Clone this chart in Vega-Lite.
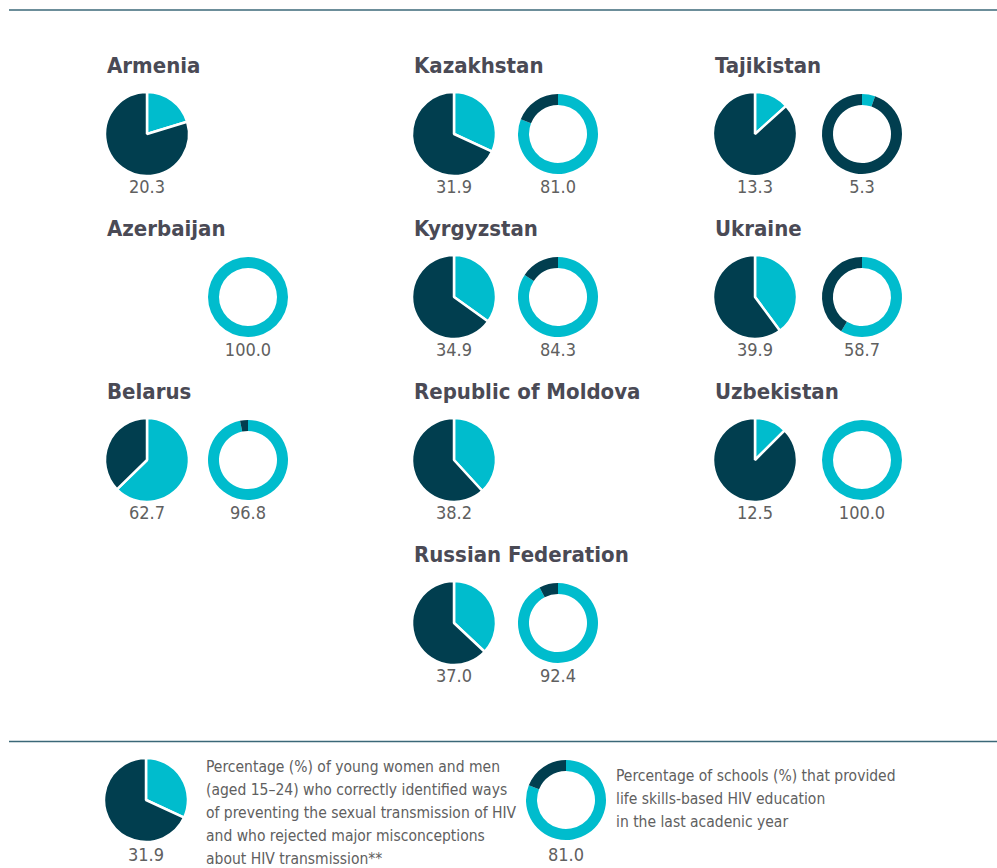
{
  "$schema": "https://vega.github.io/schema/vega-lite/v6.json",
  "padding": {"left": 8, "top": 9, "right": 0, "bottom": 0},
  "config": {
    "view": {"stroke": null},
    "concat": {"spacing": 0},
    "facet": {"spacing": 0},
    "font": "DejaVu Sans Condensed, Liberation Sans, sans-serif"
  },
  "datasets": {
    "cells": [
      {"country": "Armenia", "col": 1, "row": 1, "kind": "title"},
      {"country": "Armenia", "col": 1, "row": 1, "kind": "pie", "seg": "cyan", "ord": 1, "value": 20.3},
      {"country": "Armenia", "col": 1, "row": 1, "kind": "pie", "seg": "dark", "ord": 2, "value": 79.7},
      {"country": "Azerbaijan", "col": 1, "row": 2, "kind": "title"},
      {"country": "Azerbaijan", "col": 1, "row": 2, "kind": "donut", "seg": "cyan", "ord": 1, "value": 100.0},
      {"country": "Azerbaijan", "col": 1, "row": 2, "kind": "donut", "seg": "dark", "ord": 2, "value": 0},
      {"country": "Belarus", "col": 1, "row": 3, "kind": "title"},
      {"country": "Belarus", "col": 1, "row": 3, "kind": "pie", "seg": "cyan", "ord": 1, "value": 62.7},
      {"country": "Belarus", "col": 1, "row": 3, "kind": "pie", "seg": "dark", "ord": 2, "value": 37.3},
      {"country": "Belarus", "col": 1, "row": 3, "kind": "donut", "seg": "cyan", "ord": 1, "value": 96.8},
      {"country": "Belarus", "col": 1, "row": 3, "kind": "donut", "seg": "dark", "ord": 2, "value": 3.2},
      {"country": "Kazakhstan", "col": 2, "row": 1, "kind": "title"},
      {"country": "Kazakhstan", "col": 2, "row": 1, "kind": "pie", "seg": "cyan", "ord": 1, "value": 31.9},
      {"country": "Kazakhstan", "col": 2, "row": 1, "kind": "pie", "seg": "dark", "ord": 2, "value": 68.1},
      {"country": "Kazakhstan", "col": 2, "row": 1, "kind": "donut", "seg": "cyan", "ord": 1, "value": 81.0},
      {"country": "Kazakhstan", "col": 2, "row": 1, "kind": "donut", "seg": "dark", "ord": 2, "value": 19.0},
      {"country": "Kyrgyzstan", "col": 2, "row": 2, "kind": "title"},
      {"country": "Kyrgyzstan", "col": 2, "row": 2, "kind": "pie", "seg": "cyan", "ord": 1, "value": 34.9},
      {"country": "Kyrgyzstan", "col": 2, "row": 2, "kind": "pie", "seg": "dark", "ord": 2, "value": 65.1},
      {"country": "Kyrgyzstan", "col": 2, "row": 2, "kind": "donut", "seg": "cyan", "ord": 1, "value": 84.3},
      {"country": "Kyrgyzstan", "col": 2, "row": 2, "kind": "donut", "seg": "dark", "ord": 2, "value": 15.7},
      {"country": "Republic of Moldova", "col": 2, "row": 3, "kind": "title"},
      {"country": "Republic of Moldova", "col": 2, "row": 3, "kind": "pie", "seg": "cyan", "ord": 1, "value": 38.2},
      {"country": "Republic of Moldova", "col": 2, "row": 3, "kind": "pie", "seg": "dark", "ord": 2, "value": 61.8},
      {"country": "Russian Federation", "col": 2, "row": 4, "kind": "title"},
      {"country": "Russian Federation", "col": 2, "row": 4, "kind": "pie", "seg": "cyan", "ord": 1, "value": 37.0},
      {"country": "Russian Federation", "col": 2, "row": 4, "kind": "pie", "seg": "dark", "ord": 2, "value": 63.0},
      {"country": "Russian Federation", "col": 2, "row": 4, "kind": "donut", "seg": "cyan", "ord": 1, "value": 92.4},
      {"country": "Russian Federation", "col": 2, "row": 4, "kind": "donut", "seg": "dark", "ord": 2, "value": 7.6},
      {"country": "Tajikistan", "col": 3, "row": 1, "kind": "title"},
      {"country": "Tajikistan", "col": 3, "row": 1, "kind": "pie", "seg": "cyan", "ord": 1, "value": 13.3},
      {"country": "Tajikistan", "col": 3, "row": 1, "kind": "pie", "seg": "dark", "ord": 2, "value": 86.7},
      {"country": "Tajikistan", "col": 3, "row": 1, "kind": "donut", "seg": "cyan", "ord": 1, "value": 5.3},
      {"country": "Tajikistan", "col": 3, "row": 1, "kind": "donut", "seg": "dark", "ord": 2, "value": 94.7},
      {"country": "Ukraine", "col": 3, "row": 2, "kind": "title"},
      {"country": "Ukraine", "col": 3, "row": 2, "kind": "pie", "seg": "cyan", "ord": 1, "value": 39.9},
      {"country": "Ukraine", "col": 3, "row": 2, "kind": "pie", "seg": "dark", "ord": 2, "value": 60.1},
      {"country": "Ukraine", "col": 3, "row": 2, "kind": "donut", "seg": "cyan", "ord": 1, "value": 58.7},
      {"country": "Ukraine", "col": 3, "row": 2, "kind": "donut", "seg": "dark", "ord": 2, "value": 41.3},
      {"country": "Uzbekistan", "col": 3, "row": 3, "kind": "title"},
      {"country": "Uzbekistan", "col": 3, "row": 3, "kind": "pie", "seg": "cyan", "ord": 1, "value": 12.5},
      {"country": "Uzbekistan", "col": 3, "row": 3, "kind": "pie", "seg": "dark", "ord": 2, "value": 87.5},
      {"country": "Uzbekistan", "col": 3, "row": 3, "kind": "donut", "seg": "cyan", "ord": 1, "value": 100.0},
      {"country": "Uzbekistan", "col": 3, "row": 3, "kind": "donut", "seg": "dark", "ord": 2, "value": 0}
    ]
  },
  "vconcat": [
    {
      "width": 989, "height": 31,
      "data": {"values": [{}]},
      "mark": {"type": "rule", "color": "#3b6878", "strokeWidth": 1.5},
      "encoding": {
        "x": {"datum": 0, "type": "quantitative", "scale": {"domain": [0, 1]}, "axis": null},
        "x2": {"datum": 1},
        "y": {"datum": 1, "type": "quantitative", "scale": {"domain": [0, 1]}, "axis": null}
      }
    },
    {
      "hconcat": [
        {
          "data": {"name": "cells"},
          "transform": [{"filter": "datum.col == 1"}],
          "facet": {"row": {"field": "row", "type": "ordinal", "header": null}},
          "spacing": 0,
          "spec": {
            "width": 305, "height": 163,
            "layer": [
              {"transform": [{"filter": "datum.kind == 'title'"}],
               "mark": {"type": "text", "align": "left", "baseline": "alphabetic", "dx": -40, "dy": -2, "fontSize": 22, "fontWeight": "bold", "color": "#4a4a55"},
               "encoding": {
                 "x": {"datum": "pie", "type": "nominal", "scale": {"type": "point", "domain": ["pie", "donut"], "range": [138, 239], "padding": 0}, "axis": null},
                 "y": {"datum": "title", "type": "nominal", "scale": {"type": "point", "domain": ["title", "chart", "label"], "range": [34, 152], "padding": 0}, "axis": null},
                 "text": {"field": "country"}}},
              {"transform": [{"filter": "datum.kind == 'pie'"}],
               "mark": {"type": "arc", "outerRadius": 42, "stroke": "white", "strokeWidth": 2.5, "strokeJoin": "bevel"},
               "encoding": {
                 "x": {"datum": "pie", "type": "nominal", "scale": {"type": "point", "domain": ["pie", "donut"], "range": [138, 239], "padding": 0}, "axis": null},
                 "y": {"datum": "chart", "type": "nominal", "scale": {"type": "point", "domain": ["title", "chart", "label"], "range": [34, 152], "padding": 0}, "axis": null},
                 "theta": {"field": "value", "type": "quantitative", "stack": true, "scale": {"domain": [0, 100]}},
                 "color": {"field": "seg", "type": "nominal", "scale": {"domain": ["cyan", "dark"], "range": ["#00bccd", "#013e4f"]}, "legend": null},
                 "order": {"field": "ord", "type": "quantitative"}}},
              {"transform": [{"filter": "datum.kind == 'donut'"}],
               "mark": {"type": "arc", "outerRadius": 40, "innerRadius": 29},
               "encoding": {
                 "x": {"datum": "donut", "type": "nominal", "scale": {"type": "point", "domain": ["pie", "donut"], "range": [138, 239], "padding": 0}, "axis": null},
                 "y": {"datum": "chart", "type": "nominal", "scale": {"type": "point", "domain": ["title", "chart", "label"], "range": [34, 152], "padding": 0}, "axis": null},
                 "theta": {"field": "value", "type": "quantitative", "stack": true, "scale": {"domain": [0, 100]}},
                 "color": {"field": "seg", "type": "nominal", "scale": {"domain": ["cyan", "dark"], "range": ["#00bccd", "#013e4f"]}, "legend": null},
                 "order": {"field": "ord", "type": "quantitative"}}},
              {"transform": [{"filter": "datum.kind != 'title' && datum.seg == 'cyan'"}],
               "mark": {"type": "text", "align": "center", "baseline": "middle", "dy": -5, "fontSize": 18, "color": "#606060"},
               "encoding": {
                 "x": {"field": "kind", "type": "nominal", "scale": {"type": "point", "domain": ["pie", "donut"], "range": [138, 239], "padding": 0}, "axis": null},
                 "y": {"datum": "label", "type": "nominal", "scale": {"type": "point", "domain": ["title", "chart", "label"], "range": [34, 152], "padding": 0}, "axis": null},
                 "text": {"field": "value", "type": "quantitative", "format": ".1f"}}}
            ]
          }
        },
        {
          "data": {"name": "cells"},
          "transform": [{"filter": "datum.col == 2"}],
          "facet": {"row": {"field": "row", "type": "ordinal", "header": null}},
          "spacing": 0,
          "spec": {
            "width": 352, "height": 163,
            "layer": [
              {"transform": [{"filter": "datum.kind == 'title'"}],
               "mark": {"type": "text", "align": "left", "baseline": "alphabetic", "dx": -40, "dy": -2, "fontSize": 22, "fontWeight": "bold", "color": "#4a4a55"},
               "encoding": {
                 "x": {"datum": "pie", "type": "nominal", "scale": {"type": "point", "domain": ["pie", "donut"], "range": [140, 244], "padding": 0}, "axis": null},
                 "y": {"datum": "title", "type": "nominal", "scale": {"type": "point", "domain": ["title", "chart", "label"], "range": [34, 152], "padding": 0}, "axis": null},
                 "text": {"field": "country"}}},
              {"transform": [{"filter": "datum.kind == 'pie'"}],
               "mark": {"type": "arc", "outerRadius": 42, "stroke": "white", "strokeWidth": 2.5, "strokeJoin": "bevel"},
               "encoding": {
                 "x": {"datum": "pie", "type": "nominal", "scale": {"type": "point", "domain": ["pie", "donut"], "range": [140, 244], "padding": 0}, "axis": null},
                 "y": {"datum": "chart", "type": "nominal", "scale": {"type": "point", "domain": ["title", "chart", "label"], "range": [34, 152], "padding": 0}, "axis": null},
                 "theta": {"field": "value", "type": "quantitative", "stack": true, "scale": {"domain": [0, 100]}},
                 "color": {"field": "seg", "type": "nominal", "scale": {"domain": ["cyan", "dark"], "range": ["#00bccd", "#013e4f"]}, "legend": null},
                 "order": {"field": "ord", "type": "quantitative"}}},
              {"transform": [{"filter": "datum.kind == 'donut'"}],
               "mark": {"type": "arc", "outerRadius": 40, "innerRadius": 29},
               "encoding": {
                 "x": {"datum": "donut", "type": "nominal", "scale": {"type": "point", "domain": ["pie", "donut"], "range": [140, 244], "padding": 0}, "axis": null},
                 "y": {"datum": "chart", "type": "nominal", "scale": {"type": "point", "domain": ["title", "chart", "label"], "range": [34, 152], "padding": 0}, "axis": null},
                 "theta": {"field": "value", "type": "quantitative", "stack": true, "scale": {"domain": [0, 100]}},
                 "color": {"field": "seg", "type": "nominal", "scale": {"domain": ["cyan", "dark"], "range": ["#00bccd", "#013e4f"]}, "legend": null},
                 "order": {"field": "ord", "type": "quantitative"}}},
              {"transform": [{"filter": "datum.kind != 'title' && datum.seg == 'cyan'"}],
               "mark": {"type": "text", "align": "center", "baseline": "middle", "dy": -5, "fontSize": 18, "color": "#606060"},
               "encoding": {
                 "x": {"field": "kind", "type": "nominal", "scale": {"type": "point", "domain": ["pie", "donut"], "range": [140, 244], "padding": 0}, "axis": null},
                 "y": {"datum": "label", "type": "nominal", "scale": {"type": "point", "domain": ["title", "chart", "label"], "range": [34, 152], "padding": 0}, "axis": null},
                 "text": {"field": "value", "type": "quantitative", "format": ".1f"}}}
            ]
          }
        },
        {
          "data": {"name": "cells"},
          "transform": [{"filter": "datum.col == 3"}],
          "facet": {"row": {"field": "row", "type": "ordinal", "header": null}},
          "spacing": 0,
          "spec": {
            "width": 332, "height": 163,
            "layer": [
              {"transform": [{"filter": "datum.kind == 'title'"}],
               "mark": {"type": "text", "align": "left", "baseline": "alphabetic", "dx": -40, "dy": -2, "fontSize": 22, "fontWeight": "bold", "color": "#4a4a55"},
               "encoding": {
                 "x": {"datum": "pie", "type": "nominal", "scale": {"type": "point", "domain": ["pie", "donut"], "range": [89, 196], "padding": 0}, "axis": null},
                 "y": {"datum": "title", "type": "nominal", "scale": {"type": "point", "domain": ["title", "chart", "label"], "range": [34, 152], "padding": 0}, "axis": null},
                 "text": {"field": "country"}}},
              {"transform": [{"filter": "datum.kind == 'pie'"}],
               "mark": {"type": "arc", "outerRadius": 42, "stroke": "white", "strokeWidth": 2.5, "strokeJoin": "bevel"},
               "encoding": {
                 "x": {"datum": "pie", "type": "nominal", "scale": {"type": "point", "domain": ["pie", "donut"], "range": [89, 196], "padding": 0}, "axis": null},
                 "y": {"datum": "chart", "type": "nominal", "scale": {"type": "point", "domain": ["title", "chart", "label"], "range": [34, 152], "padding": 0}, "axis": null},
                 "theta": {"field": "value", "type": "quantitative", "stack": true, "scale": {"domain": [0, 100]}},
                 "color": {"field": "seg", "type": "nominal", "scale": {"domain": ["cyan", "dark"], "range": ["#00bccd", "#013e4f"]}, "legend": null},
                 "order": {"field": "ord", "type": "quantitative"}}},
              {"transform": [{"filter": "datum.kind == 'donut'"}],
               "mark": {"type": "arc", "outerRadius": 40, "innerRadius": 29},
               "encoding": {
                 "x": {"datum": "donut", "type": "nominal", "scale": {"type": "point", "domain": ["pie", "donut"], "range": [89, 196], "padding": 0}, "axis": null},
                 "y": {"datum": "chart", "type": "nominal", "scale": {"type": "point", "domain": ["title", "chart", "label"], "range": [34, 152], "padding": 0}, "axis": null},
                 "theta": {"field": "value", "type": "quantitative", "stack": true, "scale": {"domain": [0, 100]}},
                 "color": {"field": "seg", "type": "nominal", "scale": {"domain": ["cyan", "dark"], "range": ["#00bccd", "#013e4f"]}, "legend": null},
                 "order": {"field": "ord", "type": "quantitative"}}},
              {"transform": [{"filter": "datum.kind != 'title' && datum.seg == 'cyan'"}],
               "mark": {"type": "text", "align": "center", "baseline": "middle", "dy": -5, "fontSize": 18, "color": "#606060"},
               "encoding": {
                 "x": {"field": "kind", "type": "nominal", "scale": {"type": "point", "domain": ["pie", "donut"], "range": [89, 196], "padding": 0}, "axis": null},
                 "y": {"datum": "label", "type": "nominal", "scale": {"type": "point", "domain": ["title", "chart", "label"], "range": [34, 152], "padding": 0}, "axis": null},
                 "text": {"field": "value", "type": "quantitative", "format": ".1f"}}}
            ]
          }
        }
      ]
    },
    {
      "width": 989, "height": 48.5,
      "data": {"values": [{}]},
      "mark": {"type": "rule", "color": "#3b6878", "strokeWidth": 1.5},
      "encoding": {
        "x": {"datum": 0, "type": "quantitative", "scale": {"domain": [0, 1]}, "axis": null},
        "x2": {"datum": 1},
        "y": {"datum": 0, "type": "quantitative", "scale": {"domain": [0, 1]}, "axis": null}
      }
    },
    {
      "width": 989, "height": 126,
      "data": {"values": [
        {"item": "pie", "seg": "cyan", "ord": 1, "value": 31.9},
        {"item": "pie", "seg": "dark", "ord": 2, "value": 68.1},
        {"item": "donut", "seg": "cyan", "ord": 1, "value": 81.0},
        {"item": "donut", "seg": "dark", "ord": 2, "value": 19.0},
        {"item": "pie", "seg": "text", "desc": "Percentage (%) of young women and men\n(aged 15–24) who correctly identified ways\nof preventing the sexual transmission of HIV\nand who rejected major misconceptions\nabout HIV transmission**"},
        {"item": "donut", "seg": "text", "desc": "Percentage of schools (%) that provided\nlife skills-based HIV education\nin the last acadenic year"}
      ]},
      "layer": [
        {"transform": [{"filter": "datum.item == 'pie' && datum.seg != 'text'"}],
         "mark": {"type": "arc", "outerRadius": 42, "stroke": "white", "strokeWidth": 2.5, "strokeJoin": "bevel"},
         "encoding": {
           "x": {"datum": "pie", "type": "nominal", "scale": {"type": "point", "domain": ["pie", "donut"], "range": [137, 557], "padding": 0}, "axis": null},
           "y": {"datum": "chart", "type": "nominal", "scale": {"type": "point", "domain": ["chart", "label"], "range": [57, 113], "padding": 0}, "axis": null},
           "theta": {"field": "value", "type": "quantitative", "stack": true, "scale": {"domain": [0, 100]}},
           "color": {"field": "seg", "type": "nominal", "scale": {"domain": ["cyan", "dark"], "range": ["#00bccd", "#013e4f"]}, "legend": null},
           "order": {"field": "ord", "type": "quantitative"}}},
        {"transform": [{"filter": "datum.item == 'donut' && datum.seg != 'text'"}],
         "mark": {"type": "arc", "outerRadius": 40, "innerRadius": 29},
         "encoding": {
           "x": {"datum": "donut", "type": "nominal", "scale": {"type": "point", "domain": ["pie", "donut"], "range": [137, 557], "padding": 0}, "axis": null},
           "y": {"datum": "chart", "type": "nominal", "scale": {"type": "point", "domain": ["chart", "label"], "range": [57, 113], "padding": 0}, "axis": null},
           "theta": {"field": "value", "type": "quantitative", "stack": true, "scale": {"domain": [0, 100]}},
           "color": {"field": "seg", "type": "nominal", "scale": {"domain": ["cyan", "dark"], "range": ["#00bccd", "#013e4f"]}, "legend": null},
           "order": {"field": "ord", "type": "quantitative"}}},
        {"transform": [{"filter": "datum.seg == 'cyan'"}],
         "mark": {"type": "text", "align": "center", "baseline": "middle", "fontSize": 18, "color": "#606060"},
         "encoding": {
           "x": {"field": "item", "type": "nominal", "scale": {"type": "point", "domain": ["pie", "donut"], "range": [137, 557], "padding": 0}, "axis": null},
           "y": {"datum": "label", "type": "nominal", "scale": {"type": "point", "domain": ["chart", "label"], "range": [57, 113], "padding": 0}, "axis": null},
           "text": {"field": "value", "type": "quantitative", "format": ".1f"}}},
        {"transform": [{"filter": "datum.item == 'pie' && datum.seg == 'text'"}],
         "mark": {"type": "text", "align": "left", "baseline": "alphabetic", "dx": 60, "dy": -28, "lineBreak": "\n", "lineHeight": 23, "fontSize": 15.5, "color": "#606060"},
         "encoding": {
           "x": {"datum": "pie", "type": "nominal", "scale": {"type": "point", "domain": ["pie", "donut"], "range": [137, 557], "padding": 0}, "axis": null},
           "y": {"datum": "chart", "type": "nominal", "scale": {"type": "point", "domain": ["chart", "label"], "range": [57, 113], "padding": 0}, "axis": null},
           "text": {"field": "desc"}}},
        {"transform": [{"filter": "datum.item == 'donut' && datum.seg == 'text'"}],
         "mark": {"type": "text", "align": "left", "baseline": "alphabetic", "dx": 50, "dy": -19, "lineBreak": "\n", "lineHeight": 23, "fontSize": 15.5, "color": "#606060"},
         "encoding": {
           "x": {"datum": "donut", "type": "nominal", "scale": {"type": "point", "domain": ["pie", "donut"], "range": [137, 557], "padding": 0}, "axis": null},
           "y": {"datum": "chart", "type": "nominal", "scale": {"type": "point", "domain": ["chart", "label"], "range": [57, 113], "padding": 0}, "axis": null},
           "text": {"field": "desc"}}}
      ]
    }
  ]
}
